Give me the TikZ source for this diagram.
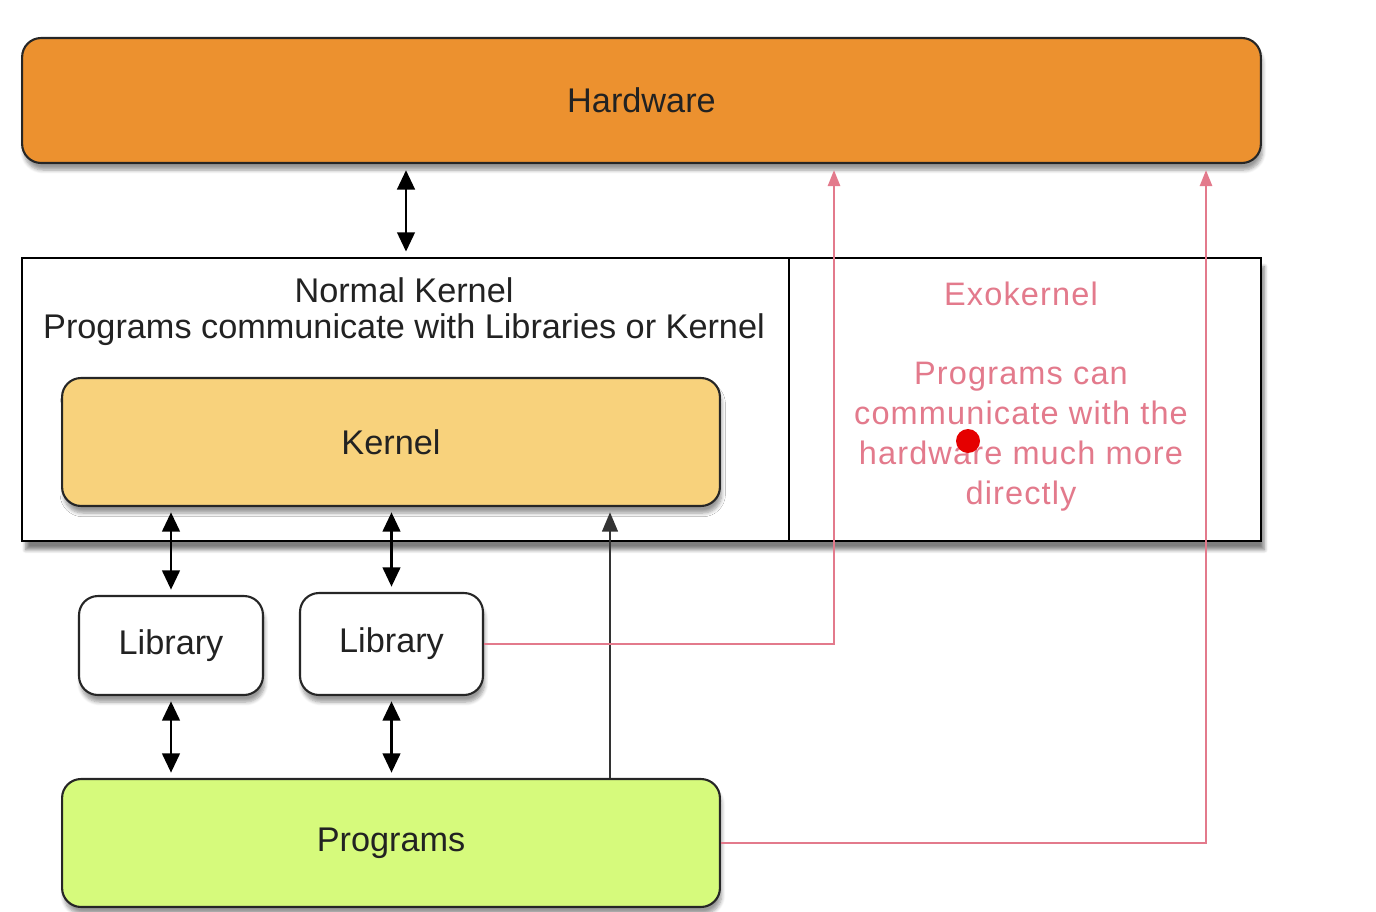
\documentclass[tikz,border=0pt]{standalone}
\usepackage{fontspec}
\setmainfont{Liberation Sans}
\usetikzlibrary{shadows,shadows.blur,arrows.meta}
\definecolor{hwor}{HTML}{EC912F}
\definecolor{kern}{HTML}{F8D27C}
\definecolor{prog}{HTML}{D6FA7C}
\definecolor{exo}{HTML}{E37A8C}
\definecolor{txt}{HTML}{222222}
\tikzset{
  box/.style={draw=black!85, line width=1.2pt, rounded corners=0.38cm, inner sep=0pt,
    text=txt, font=\fontsize{19.5}{22}\selectfont,
    blur shadow={shadow xshift=1pt, shadow yshift=-4pt, shadow blur steps=6, shadow opacity=40}},
  plain/.style={draw=black, line width=1.3pt, inner sep=0pt,
    blur shadow={shadow xshift=2pt, shadow yshift=-5pt, shadow blur steps=6, shadow opacity=50}},
  lbl/.style={text=txt, font=\fontsize{19.5}{22}\selectfont, inner sep=0pt},
  exol/.style={text=exo, font=\fontsize{18.5}{22.8}\selectfont\addfontfeatures{LetterSpace=3.5}, align=center, inner sep=0pt},
  dbl/.style={{Triangle[length=11pt,width=10pt]}-{Triangle[length=11pt,width=10pt]}, line width=1.5pt, black},
  sgl/.style={-{Triangle[length=11pt,width=9pt]}, line width=1pt, black!80},
  pk/.style={-{Triangle[length=9pt,width=7pt]}, line width=0.9pt, exo},
}
\begin{document}
\begin{tikzpicture}[x=0.02cm,y=-0.02cm]
\useasboundingbox (0,0) rectangle (1376,912);
% columns
\coordinate (c406) at (406,0);
\coordinate (c610) at (610,0);
\coordinate (c834) at (834,0);
\coordinate (c1206) at (1206,0);
\coordinate (d1) at (789,258);
\coordinate (d2) at (789,541);
% boxes
\node[box, fill=hwor, minimum width=24.78cm, minimum height=2.5cm] (hw) at (641.5,100.5) {Hardware};
\node[plain, fill=white, minimum width=24.78cm, minimum height=5.66cm] (outer) at (641.5,399.5) {};
\draw[line width=1.2pt, black] (d1) -- (d2);
\node[lbl] (nk1) at (404,290) {Normal Kernel};
\node[lbl] (nk2) at (404,330) {Programs communicate with Libraries or Kernel};
\node[box, fill=kern, minimum width=13.16cm, minimum height=2.56cm] (kernel) at (391,442) {Kernel};
\node[exol] (exot) at (1021,294) {Exokernel};
\node[exol] (exob) at (1021,437) {Programs can\\communicate with the\\hardware much more\\directly};
\node[box, fill=white, minimum width=3.68cm, minimum height=1.98cm] (lib1) at (171,645.5) {Library};
\node[box, fill=white, minimum width=3.66cm, minimum height=2.04cm] (lib2) at (391.5,644) {Library};
\node[box, fill=prog, minimum width=13.16cm, minimum height=2.56cm] (prog) at (391,843) {Programs};
% black connectors
\draw[dbl, shorten <=3.5pt, shorten >=3pt] (hw.south -| c406) -- (outer.north -| c406);
\draw[dbl, shorten <=3pt, shorten >=3pt] (kernel.south -| lib1.north) -- (lib1.north);
\draw[dbl, shorten <=3pt, shorten >=3pt] (kernel.south -| lib2.north) -- (lib2.north);
\draw[dbl, shorten <=3pt, shorten >=3pt] (lib1.south) -- (prog.north -| lib1.south);
\draw[dbl, shorten <=3pt, shorten >=3pt] (lib2.south) -- (prog.north -| lib2.south);
\draw[sgl, shorten >=3pt] (prog.north -| c610) -- (kernel.south -| c610);
% pink connectors
\draw[pk, shorten >=3.5pt] (lib2.east) -| (hw.south -| c834);
\draw[pk, shorten >=3.5pt] (prog.east) -| (hw.south -| c1206);
% pointer dot
\fill[red!90!black] (968,441) circle (0.24cm);
\end{tikzpicture}
\end{document}
